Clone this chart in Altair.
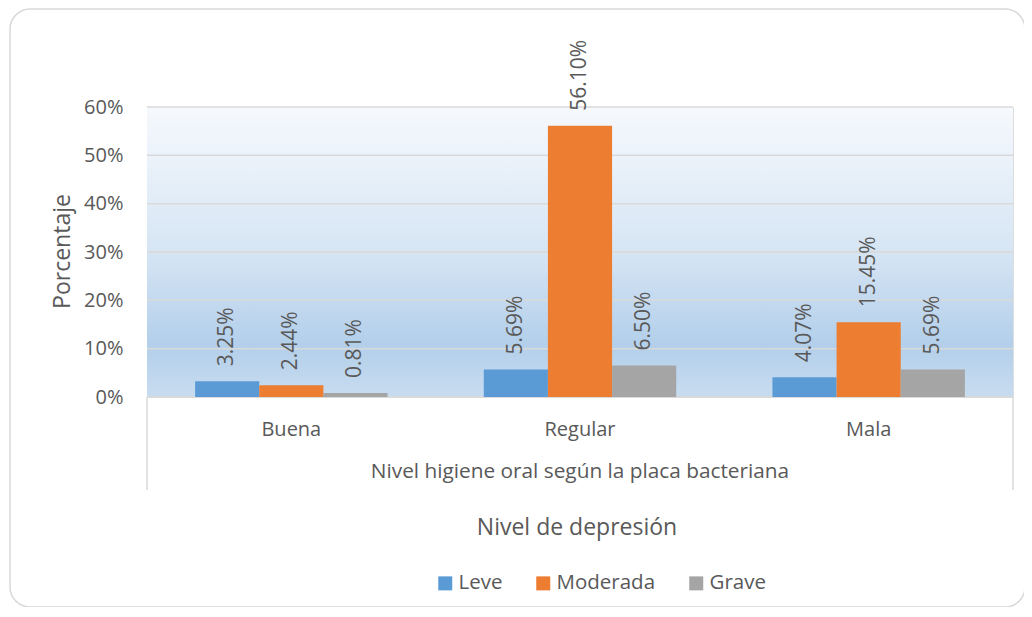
import altair as alt
import pandas as pd

categories = ["Buena", "Regular", "Mala"]
series = ["Leve", "Moderada", "Grave"]
leve = [0.0325, 0.0569, 0.0407]
moderada = [0.0244, 0.5610, 0.1545]
grave = [0.0081, 0.0650, 0.0569]
ticks = [0.0, 0.1, 0.2, 0.3, 0.4, 0.5, 0.6]
colors = ["#5B9BD5", "#ED7D31", "#A5A5A5"]
group_title = "Nivel higiene oral según la placa bacteriana"
legend_title = "Nivel de depresión"
y_title = "Porcentaje"

rows = []
for s, vals in zip(series, [leve, moderada, grave]):
    for c, v in zip(categories, vals):
        rows.append({"cat": c, "serie": s, "val": v})
df = pd.DataFrame(rows)
tick_df = pd.DataFrame({"val": ticks})
cat_df = pd.DataFrame({"cat": categories})
one = pd.DataFrame({"t": [group_title]})
one2 = pd.DataFrame({"t": [legend_title]})

W, H = 866, 290
TXT = "#595959"
GRID = "#D9D9D9"

yscale = alt.Scale(domain=[0, 0.6])
yaxis = alt.Axis(
    values=ticks, format=".0%", grid=False, domain=False, ticks=False,
    labelFontSize=20, labelColor=TXT, labelPadding=24,
    title=y_title, titleFontSize=23, titleFontWeight="normal", titleColor=TXT,
    titleAngle=270, titleX=-85, titleY=144, titleBaseline="middle", titleAlign="center",
)
xenc = alt.X("cat:N", sort=categories,
             scale=alt.Scale(paddingInner=1/3, paddingOuter=1/6), axis=None)
xoff = alt.XOffset("serie:N", sort=series,
                   scale=alt.Scale(paddingInner=0, paddingOuter=0))

frame = alt.Chart(one).mark_rect(
    cornerRadius=20, fillOpacity=0, fill="white", stroke=GRID, strokeWidth=1.5
).encode(x=alt.value(-137), x2=alt.value(878), y=alt.value(-98), y2=alt.value(500))

bg = alt.Chart(one).mark_rect(
    fill=alt.Gradient(
        gradient="linear", x1=0, x2=0, y1=0, y2=1,
        stops=[
            alt.GradientStop(offset=0, color="#F6F9FD"),
            alt.GradientStop(offset=0.5, color="#D6E5F4"),
            alt.GradientStop(offset=0.82, color="#B3CFEA"),
            alt.GradientStop(offset=1, color="#C8DCF0"),
        ],
    )
).encode(x=alt.value(0), x2=alt.value(W), y=alt.value(0), y2=alt.value(H))

grid = alt.Chart(tick_df).mark_rule(color=GRID, strokeWidth=1.5).encode(
    y=alt.Y("val:Q", scale=yscale, axis=yaxis), x=alt.value(0), x2=alt.value(W)
)

box = alt.Chart(pd.DataFrame({"xp": [0, W]})).mark_rule(color=GRID, strokeWidth=1.5).encode(
    x=alt.X("xp:Q", scale=None), y=alt.value(H), y2=alt.value(383)
)

bars = alt.Chart(df).mark_bar(strokeWidth=0).encode(
    x=xenc, xOffset=xoff,
    y=alt.Y("val:Q", scale=yscale, axis=yaxis),
    color=alt.Color("serie:N", sort=series,
                    scale=alt.Scale(domain=series, range=colors),
                    legend=alt.Legend(
                        title=None, orient="none", legendX=288, legendY=466,
                        direction="horizontal", symbolType="square", symbolSize=196,
                        symbolStrokeWidth=0, labelFontSize=20.5, labelColor=TXT,
                        labelOffset=3, columnPadding=30,
                    )),
)

labels = alt.Chart(df).mark_text(
    angle=270, align="left", baseline="middle", dx=15, fontSize=21, color=TXT
).encode(
    x=xenc, xOffset=xoff,
    y=alt.Y("val:Q", scale=yscale, axis=yaxis),
    text=alt.Text("val:Q", format=".2%"),
)

cat_text = alt.Chart(cat_df).mark_text(fontSize=20, color=TXT, baseline="alphabetic").encode(
    x=xenc, y=alt.value(329), text="cat:N"
)

gtitle = alt.Chart(one).mark_text(fontSize=20.8, color=TXT, baseline="alphabetic").encode(
    x=alt.value(433), y=alt.value(371), text="t:N"
)
ltitle = alt.Chart(one2).mark_text(fontSize=23, color=TXT, baseline="alphabetic").encode(
    x=alt.value(430), y=alt.value(428), text="t:N"
)

chart = alt.layer(frame, bg, grid, box, bars, labels, cat_text, gtitle, ltitle).properties(
    width=W, height=H,
    autosize=alt.AutoSizeParams(type="none"),
    padding={"left": 139, "top": 99, "right": 11, "bottom": 210},
).configure_view(stroke=None).configure(font="Open Sans")

chart.save("out.html", embed_options={"renderer": "svg", "actions": False})
